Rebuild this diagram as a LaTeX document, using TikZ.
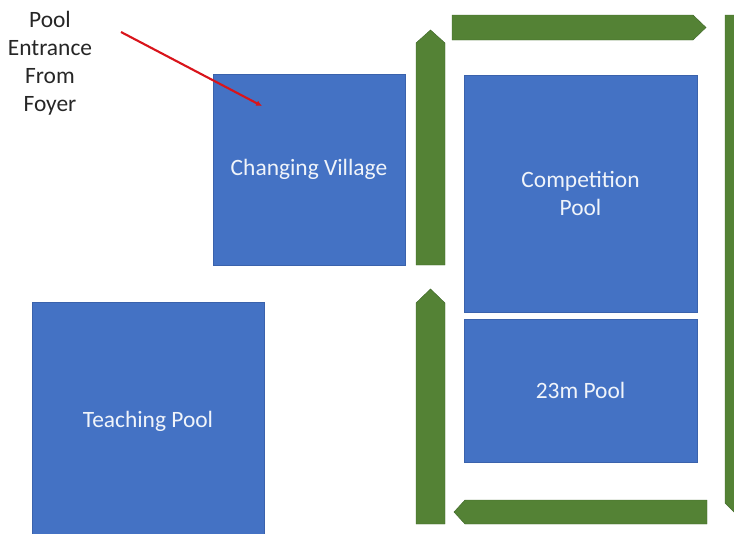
\documentclass[tikz,border=0pt]{standalone}
\usepackage{fontspec}
\setmainfont{Carlito}
\usepackage{tikz}
\usetikzlibrary{calc}
\usetikzlibrary{arrows.meta}

\definecolor{poolblue}{HTML}{4472C4}
\definecolor{pooledge}{HTML}{3A62AC}
\definecolor{walkgreen}{HTML}{548235}
\definecolor{walkedge}{HTML}{41692A}
\definecolor{entryred}{HTML}{D9141B}

\begin{document}
\begin{tikzpicture}[
            x=0.03cm, y=-0.03cm,
            pool-node/.style={rectangle,draw=pooledge,fill=poolblue,text=white!92!poolblue,
                inner sep=0pt,align=center,font=\fontsize{20}{24}\selectfont},
            walk-arrow/.style={fill=walkgreen,draw=walkedge,line width=0.4pt},
            note-node/.style={align=center,text=black!85,font=\fontsize{20}{24}\selectfont},
        ]
            \clip (0,0) rectangle (734,533);
            \useasboundingbox (0,0) rectangle (734,533);

            % rooms
            \node[pool-node,minimum width=5.76cm,minimum height=5.73cm] (village) at (309,169.5) {Changing Village};
            \node[pool-node,minimum width=6.99cm,minimum height=7.11cm] (comp) at (580.5,193.5) {Competition\\Pool};
            \node[pool-node,minimum width=6.99cm,minimum height=4.29cm] (short) at (580.5,390.5) {23m Pool};
            \node[pool-node,minimum width=6.96cm,minimum height=7.14cm] (teach) at (148,421) {Teaching Pool};

            % walkways
            \filldraw[walk-arrow] (452,15) -- (693,15) -- (706,27.5) -- (693,40) -- (452,40) -- cycle;
            \filldraw[walk-arrow] (416,265) -- (416,43) -- (430.5,30) -- (445,43) -- (445,265) -- cycle;
            \filldraw[walk-arrow] (416,524) -- (416,303) -- (430.5,289) -- (445,303) -- (445,524) -- cycle;
            \filldraw[walk-arrow] (707,500) -- (465,500) -- (454,512) -- (465,524) -- (707,524) -- cycle;
            \filldraw[walk-arrow] (725,15) -- (755,15) -- (755,503) -- (740,518) -- (725,503) -- cycle;

            % entrance
            \node[note-node] (entry) at (50,63) {Pool\\Entrance\\From\\Foyer};
            \coordinate (entry-tail) at (121,32);
            \coordinate (door) at (262,106);
            \draw[entryred,line width=1.8pt,-{Latex[length=5pt,width=5pt]}] (entry-tail) -- (door);
        \end{tikzpicture}
\end{document}
